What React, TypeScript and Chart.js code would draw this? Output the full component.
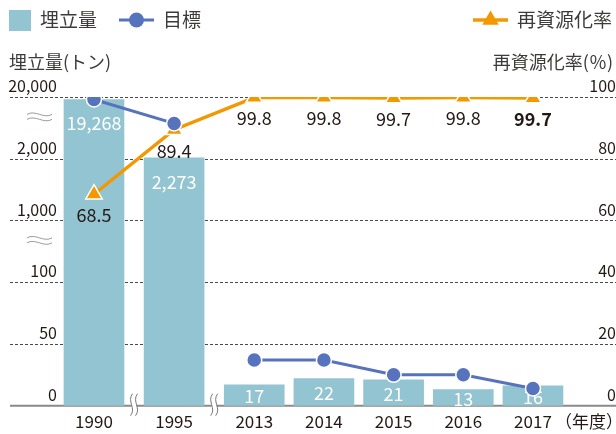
import React, { useEffect, useRef } from 'react';
import { Chart, registerables } from 'chart.js';

Chart.register(...registerables);

// ---- data ----
const years = ['1990', '1995', '2013', '2014', '2015', '2016', '2017'];
const landfill = [19268, 2273, 17, 22, 21, 13, 16]; // 埋立量 (トン)
const target = [19268, 12300, 37, 37, 25, 25, 14]; // 目標 (トン)
const recycleRate = [68.5, 89.4, 99.8, 99.8, 99.7, 99.8, 99.7]; // 再資源化率 (%)
const leftTickValues = [0, 50, 100, 1000, 2000, 20000];
const leftTickLabels = ['0', '50', '100', '1,000', '2,000', '20,000'];
const rightTickValues = [0, 20, 40, 60, 80, 100];
const xBreaksAfter = [0, 1]; // axis breaks after 1990 and 1995
const targetGapAfter = [1]; // 目標 line is not drawn across 1995 → 2013
const leftBreakSegments = [2, 4]; // broken segments 100–1,000 and 2,000–20,000

// ---- style / layout constants ----
const BREAK_GAP = 0.15;
const FONT = '"Noto Sans CJK JP", "Noto Sans", sans-serif';
const TEXT = '#231815';
const LEGEND_TEXT = '#3e3a39';
const BAR = '#93c4d1';
const BLUE = '#5873bd';
const ORANGE = '#f39800';

const SEG = 100 / (leftTickValues.length - 1);
function toDisplay(v: number): number {
  for (let i = 0; i < leftTickValues.length - 1; i++) {
    const a = leftTickValues[i];
    const b = leftTickValues[i + 1];
    if (v <= b || i === leftTickValues.length - 2) return (i + (v - a) / (b - a)) * SEG;
  }
  return 0;
}
function xPos(i: number): number {
  return i + BREAK_GAP * xBreaksAfter.filter((b) => b < i).length;
}
const xPositions = years.map((_, i) => xPos(i));

function wavyH(ctx: CanvasRenderingContext2D, x0: number, y: number, w: number) {
  ctx.beginPath();
  ctx.moveTo(x0, y);
  ctx.bezierCurveTo(x0 + w * 0.33, y - 5, x0 + w * 0.67, y + 5, x0 + w, y);
  ctx.stroke();
}
function wavyV(ctx: CanvasRenderingContext2D, x: number, y0: number, h: number) {
  ctx.beginPath();
  ctx.moveTo(x + 1, y0);
  ctx.bezierCurveTo(x - 5, y0 + h * 0.35, x + 5, y0 + h * 0.65, x - 1, y0 + h);
  ctx.stroke();
}

const decor = {
  id: 'decor',
  beforeDatasetsDraw(chart: any) {
    const { ctx, scales } = chart;
    const y = scales.y;
    const x = scales.x;
    const W = chart.width;
    ctx.save();
    ctx.strokeStyle = '#4a4a4a';
    ctx.lineWidth = 1;
    ctx.setLineDash([3, 2]);
    leftTickValues.forEach((v) => {
      if (v === 0) return;
      const py = Math.round(y.getPixelForValue(toDisplay(v))) + 0.5;
      ctx.beginPath();
      ctx.moveTo(10, py);
      ctx.lineTo(W, py);
      ctx.stroke();
    });
    ctx.setLineDash([]);
    const by = y.getPixelForValue(0);
    ctx.strokeStyle = '#8a8a8a';
    ctx.lineWidth = 2;
    ctx.beginPath();
    ctx.moveTo(10, by);
    ctx.lineTo(W, by);
    ctx.stroke();
    // x-axis break marks
    xBreaksAfter.forEach((b) => {
      const px = x.getPixelForValue((xPos(b) + xPos(b + 1)) / 2);
      ctx.fillStyle = '#fff';
      ctx.fillRect(px - 2.5, by - 4, 5, 8);
      ctx.strokeStyle = '#777';
      ctx.lineWidth = 1;
      wavyV(ctx, px - 2.5, by - 12, 22);
      wavyV(ctx, px + 2.5, by - 12, 22);
    });
    // left-axis break marks
    ctx.strokeStyle = '#9a9a9a';
    ctx.lineWidth = 1;
    leftBreakSegments.forEach((s) => {
      const py = (y.getPixelForValue(s * SEG) + y.getPixelForValue((s + 1) * SEG)) / 2 - 11;
      wavyH(ctx, 27, py - 2.5, 25);
      wavyH(ctx, 27, py + 2.5, 25);
    });
    ctx.restore();
  },
  afterDatasetDraw(chart: any, args: any) {
    const meta = args.meta;
    if (meta.type !== 'bar') return;
    const { ctx } = chart;
    ctx.save();
    ctx.fillStyle = '#fff';
    ctx.font = `18px ${FONT}`;
    ctx.textAlign = 'center';
    ctx.textBaseline = 'middle';
    meta.data.forEach((el: any, i: number) => {
      const h = el.base - el.y;
      const ty = h > 60 ? el.y + 24 : (el.y + el.base) / 2 + 1;
      ctx.fillText(landfill[i].toLocaleString('en-US'), el.x, ty);
    });
    ctx.restore();
  },
  afterDatasetsDraw(chart: any) {
    const { ctx } = chart;
    const meta = chart.getDatasetMeta(1);
    ctx.save();
    ctx.fillStyle = TEXT;
    ctx.textAlign = 'center';
    ctx.textBaseline = 'middle';
    meta.data.forEach((el: any, i: number) => {
      const last = i === recycleRate.length - 1;
      ctx.font = `${last ? 'bold ' : ''}18px ${FONT}`;
      ctx.fillText(recycleRate[i].toFixed(1), el.x, el.y + 21);
    });
    ctx.restore();
  },
  afterDraw(chart: any) {
    const { ctx } = chart;
    ctx.save();
    // legend
    ctx.textBaseline = 'middle';
    ctx.textAlign = 'left';
    ctx.font = `19px ${FONT}`;
    ctx.fillStyle = BAR;
    ctx.fillRect(9, 10, 22, 21);
    ctx.fillStyle = LEGEND_TEXT;
    ctx.fillText('埋立量', 40, 20);
    ctx.strokeStyle = BLUE;
    ctx.lineWidth = 3;
    ctx.beginPath();
    ctx.moveTo(119, 20);
    ctx.lineTo(154, 20);
    ctx.stroke();
    ctx.fillStyle = BLUE;
    ctx.beginPath();
    ctx.arc(136.5, 20, 7.5, 0, Math.PI * 2);
    ctx.fill();
    ctx.fillStyle = LEGEND_TEXT;
    ctx.fillText('目標', 163, 20);
    ctx.strokeStyle = ORANGE;
    ctx.lineWidth = 3.5;
    ctx.beginPath();
    ctx.moveTo(473, 20);
    ctx.lineTo(508, 20);
    ctx.stroke();
    ctx.fillStyle = ORANGE;
    ctx.beginPath();
    const r = 9.5;
    const cx = 490.5;
    const cy = 20;
    ctx.moveTo(cx, cy - r);
    ctx.lineTo(cx + r * 0.866, cy + r * 0.5);
    ctx.lineTo(cx - r * 0.866, cy + r * 0.5);
    ctx.closePath();
    ctx.fill();
    ctx.fillStyle = LEGEND_TEXT;
    ctx.fillText('再資源化率', 517, 20);
    // axis titles
    ctx.font = `18px ${FONT}`;
    ctx.fillStyle = LEGEND_TEXT;
    ctx.textAlign = 'left';
    ctx.fillText('埋立量(トン)', 9, 62);
    ctx.textAlign = 'right';
    ctx.fillText('再資源化率(％)', 613, 62);
    // x-axis unit
    const xs = chart.scales.x;
    ctx.font = `17px ${FONT}`;
    ctx.fillStyle = TEXT;
    ctx.textAlign = 'center';
    ctx.fillText('（年度）', 589, xs.top + 16);
    ctx.restore();
  },
};

export default function App() {
  const ref = useRef<HTMLCanvasElement | null>(null);
  useEffect(() => {
    document.body.style.margin = '0';
    const canvas = ref.current;
    if (!canvas) return;
    const chart = new Chart(canvas, {
      type: 'bar',
      data: {
        datasets: [
          {
            type: 'line',
            label: '目標',
            data: target.map((v, i) => ({ x: xPositions[i], y: toDisplay(v) })),
            borderColor: BLUE,
            backgroundColor: BLUE,
            borderWidth: 3,
            pointRadius: 7.5,
            pointBackgroundColor: BLUE,
            pointBorderColor: '#fff',
            pointBorderWidth: 1.5,
            segment: {
              borderColor: (c: any) => (targetGapAfter.includes(c.p0DataIndex) ? 'rgba(0,0,0,0)' : BLUE),
            },
            yAxisID: 'y',
            order: 0,
          } as any,
          {
            type: 'line',
            label: '再資源化率',
            data: recycleRate.map((v, i) => ({ x: xPositions[i], y: v })),
            borderColor: ORANGE,
            backgroundColor: ORANGE,
            borderWidth: 3.5,
            pointStyle: 'triangle',
            pointRadius: 9.5,
            pointBackgroundColor: ORANGE,
            pointBorderColor: '#fff',
            pointBorderWidth: 1.5,
            yAxisID: 'yR',
            order: 1,
          } as any,
          {
            type: 'bar',
            label: '埋立量',
            data: landfill.map((v, i) => ({ x: xPositions[i], y: toDisplay(v) })),
            backgroundColor: BAR,
            barThickness: 60,
            yAxisID: 'y',
            order: 2,
          } as any,
        ],
      },
      options: {
        responsive: false,
        animation: false,
        devicePixelRatio: 1,
        layout: { padding: { top: 97, left: 0, right: 0, bottom: 0 } },
        plugins: { legend: { display: false }, tooltip: { enabled: false } },
        scales: {
          x: {
            type: 'linear',
            offset: false,
            min: -0.459,
            max: 6.975,
            grid: { display: false, drawTicks: false, offset: false },
            border: { display: false },
            afterBuildTicks: (s: any) => {
              s.ticks = xPositions.map((v) => ({ value: v }));
            },
            afterFit: (s: any) => {
              s.height = 28.3;
            },
            ticks: {
              padding: 6,
              color: TEXT,
              font: { family: FONT, size: 17 },
              callback: (_v: any, i: number) => years[i],
              maxRotation: 0,
              autoSkip: false,
            },
          },
          y: {
            type: 'linear',
            position: 'left',
            min: 0,
            max: 100,
            grid: { display: false, drawTicks: false },
            border: { display: false },
            afterBuildTicks: (s: any) => {
              s.ticks = leftTickValues.map((v) => ({ value: toDisplay(v) }));
            },
            afterFit: (s: any) => {
              s.width = 62;
            },
            ticks: {
              padding: 5,
              labelOffset: -11,
              color: TEXT,
              font: { family: FONT, size: 16 },
              callback: (_v: any, i: number) => leftTickLabels[i],
            },
          },
          yR: {
            type: 'linear',
            position: 'right',
            min: 0,
            max: 100,
            grid: { display: false, drawTicks: false },
            border: { display: false },
            afterBuildTicks: (s: any) => {
              s.ticks = rightTickValues.map((v) => ({ value: v }));
            },
            afterFit: (s: any) => {
              s.width = 36;
            },
            ticks: {
              padding: 4,
              labelOffset: -11,
              crossAlign: 'far',
              color: TEXT,
              font: { family: FONT, size: 16 },
              callback: (v: any) => String(v),
            },
          },
        },
      } as any,
      plugins: [decor],
    });
    return () => chart.destroy();
  }, []);
  return (
    <div style={{ width: 616, height: 434 }}>
      <canvas ref={ref} width={616} height={434} style={{ display: 'block' }} />
    </div>
  );
}
